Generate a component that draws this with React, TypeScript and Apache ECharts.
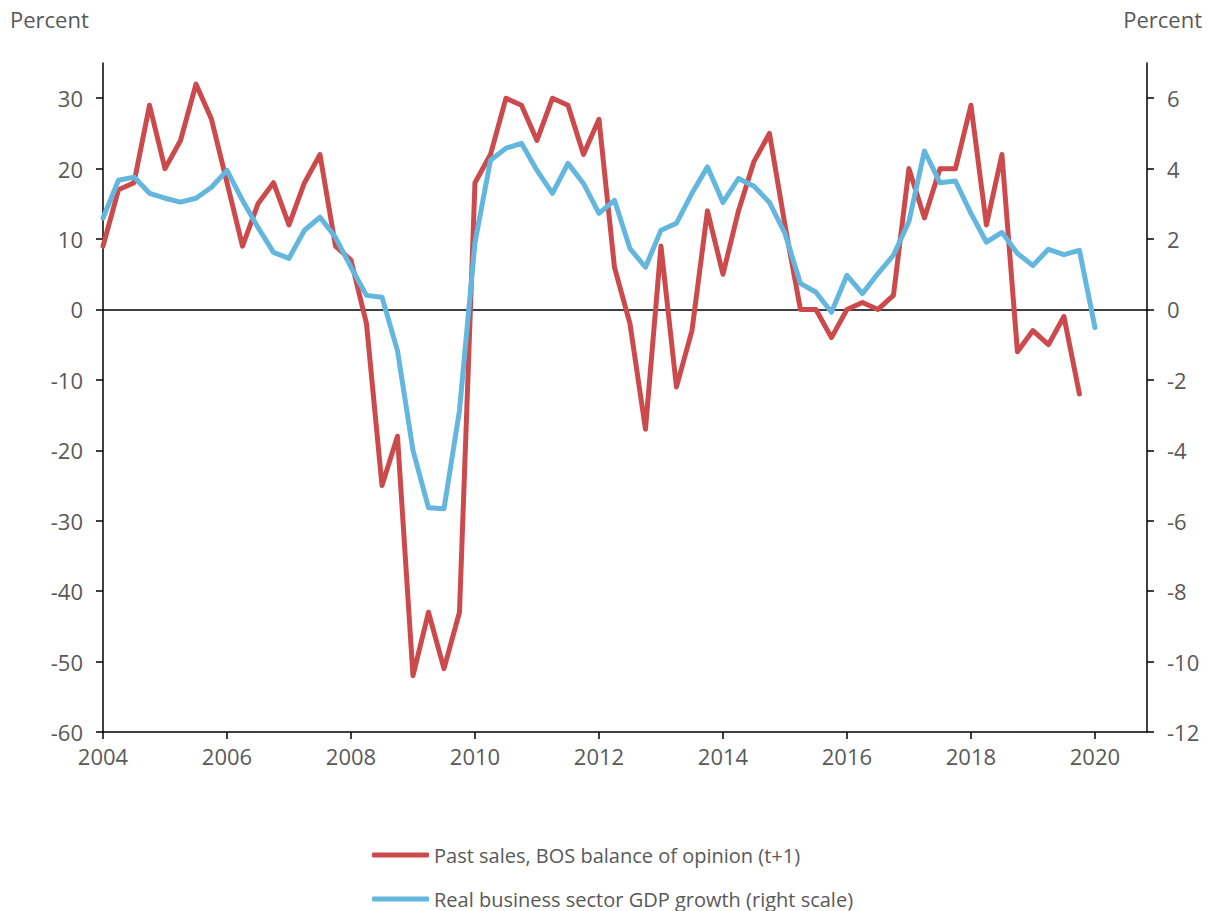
import React, { useEffect, useRef } from "react";
import * as echarts from "echarts";

// Quarterly observations starting 2004 Q1
const START_YEAR = 2004;
const pastSalesBOS = [
  9, 17, 18, 29, 20, 24, 32, 27,
  18, 9, 15, 18, 12, 18, 22, 9,
  7, -2, -25, -18, -52, -43, -51, -43,
  18, 22, 30, 29, 24, 30, 29, 22,
  27, 6, -2, -17, 9, -11, -3, 14,
  5, 14, 21, 25, 12, 0, 0, -4,
  0, 1, 0, 2, 20, 13, 20, 20,
  29, 12, 22, -6, -3, -5, -1, -12,
];
const gdpGrowth = [
  2.6, 3.67, 3.76, 3.3, 3.16, 3.05, 3.16, 3.47,
  3.95, 3.1, 2.33, 1.62, 1.45, 2.25, 2.62, 2.05,
  1.2, 0.4, 0.35, -1.17, -4.0, -5.63, -5.66, -2.87,
  1.9, 4.24, 4.58, 4.72, 3.95, 3.3, 4.15, 3.58,
  2.73, 3.1, 1.73, 1.2, 2.25, 2.45, 3.3, 4.05,
  3.04, 3.72, 3.5, 3.04, 2.16, 0.74, 0.49, -0.08,
  0.97, 0.45, 1.02, 1.54, 2.5, 4.5, 3.6, 3.65,
  2.73, 1.91, 2.19, 1.59, 1.25, 1.71, 1.56, 1.68,
  -0.51,
];
const leftTicks = [-60, -50, -40, -30, -20, -10, 0, 10, 20, 30];
const rightTicks = [-12, -10, -8, -6, -4, -2, 0, 2, 4, 6];
const xTicks = [2004, 2006, 2008, 2010, 2012, 2014, 2016, 2018, 2020];
const seriesNames = [
  "Past sales, BOS balance of opinion (t+1)",
  "Real business sector GDP growth (right scale)",
];

const RED = "#CC4A4C";
const BLUE = "#63B6DD";
const TXT = "#595959";
const FONT = "Open Sans";
const FS = 22;
const LFS = 20;

const toPairs = (arr: number[]) =>
  arr.map((v, i) => [START_YEAR + i * 0.25, v]);

export default function App() {
  const ref = useRef<HTMLDivElement>(null);
  useEffect(() => {
    if (!ref.current) return;
    const chart = echarts.init(ref.current, null, { renderer: "svg" });
    const axisLine = { show: true, lineStyle: { color: "#000", width: 1.5 } };
    const tickStyle = { color: "#000", width: 1.5 };
    const legendBase = {
      orient: "horizontal",
      left: 372,
      padding: 0,
      icon: "roundRect",
      itemWidth: 57,
      itemHeight: 5,
      textStyle: { color: TXT, fontSize: LFS, fontFamily: FONT, lineHeight: 24 },
    };
    chart.setOption({
      animation: false,
      textStyle: { fontFamily: FONT },
      grid: { left: 103, right: 65, top: 63, bottom: 179, containLabel: false },
      xAxis: {
        type: "value",
        min: 2004,
        max: 2020.84,
        axisLine: { ...axisLine, onZero: false },
        axisTick: { show: true, length: 7, lineStyle: tickStyle, customValues: xTicks },
        axisLabel: { color: TXT, fontSize: FS, fontFamily: FONT, margin: 13, customValues: xTicks, formatter: (v: number) => String(v) },
        splitLine: { show: false },
      },
      yAxis: [
        {
          type: "value",
          min: -60,
          max: 35,
          position: "left",
          axisLine: { ...axisLine, onZero: false },
          axisTick: { show: true, length: 7, lineStyle: tickStyle, customValues: leftTicks },
          axisLabel: { color: TXT, fontSize: FS, fontFamily: FONT, margin: 20, customValues: leftTicks },
          splitLine: { show: false },
        },
        {
          type: "value",
          min: -12,
          max: 7,
          position: "right",
          axisLine: { ...axisLine, onZero: false },
          axisTick: { show: true, length: 7, lineStyle: tickStyle, customValues: rightTicks },
          axisLabel: { color: TXT, fontSize: FS, fontFamily: FONT, margin: 20, customValues: rightTicks },
          splitLine: { show: false },
        },
      ],
      legend: [
        { ...legendBase, top: 843, data: [seriesNames[0]] },
        { ...legendBase, top: 887, data: [seriesNames[1]] },
      ],
      graphic: [
        { type: "text", left: 10, top: 8, style: { text: "Percent", fill: TXT, font: `${FS}px "${FONT}"` } },
        { type: "text", right: 10, top: 8, style: { text: "Percent", fill: TXT, font: `${FS}px "${FONT}"` } },
      ],
      series: [
        {
          name: seriesNames[0],
          type: "line",
          yAxisIndex: 0,
          data: toPairs(pastSalesBOS),
          symbol: "none",
          lineStyle: { color: RED, width: 5, join: "round", cap: "round" },
          itemStyle: { color: RED },
          z: 3,
          markLine: {
            silent: true,
            symbol: "none",
            label: { show: false },
            lineStyle: { color: "#000", width: 1.5, type: "solid" },
            data: [{ yAxis: 0 }],
            z: 1,
          },
        },
        {
          name: seriesNames[1],
          type: "line",
          yAxisIndex: 1,
          data: toPairs(gdpGrowth),
          symbol: "none",
          lineStyle: { color: BLUE, width: 5, join: "round", cap: "round" },
          itemStyle: { color: BLUE },
          z: 4,
        },
      ],
    });
    return () => chart.dispose();
  }, []);
  return <div ref={ref} style={{ width: 1212, height: 911, position: "absolute", left: 0, top: 0 }} />;
}
